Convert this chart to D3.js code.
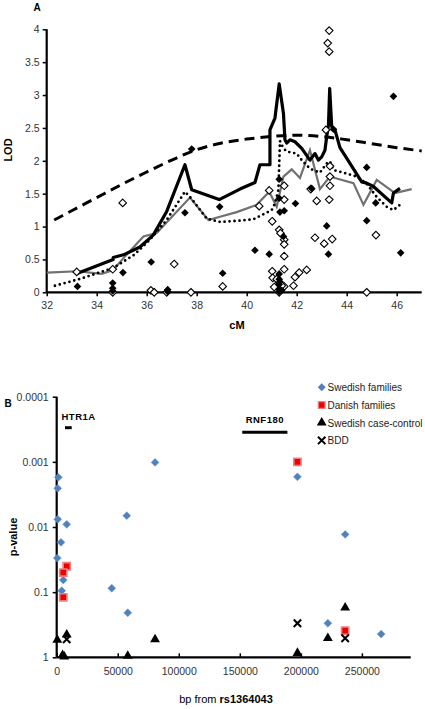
<!DOCTYPE html>
<html><head><meta charset="utf-8">
<script src="https://cdn.jsdelivr.net/npm/d3@7"></script>
<style>body{margin:0;background:#fff}svg{display:block;font-family:"Liberation Sans",Arial,sans-serif}</style>
</head><body><svg id="c" width="425" height="709"></svg>
<script>
// ---------- Panel A data (cM, LOD) ----------
const aTicksX = [32,34,36,38,40,42,44,46];
const aTicksY = [0,0.5,1,1.5,2,2.5,3,3.5,4];
const dashedLine = [[32.3,1.1],[33,1.24],[34,1.44],[35,1.64],[36,1.83],[37,2.01],[38,2.17],[39,2.27],[40,2.33],[41,2.37],[42,2.39],[43,2.37],[44,2.32],[45,2.26],[46,2.2],[47,2.15]];
const blackLine = [[33.24,0.29],[34.66,0.5],[34.66,0.53],[35.07,0.57],[35.73,0.69],[36.26,0.87],[36.8,1.23],[37.53,1.94],[37.8,1.56],[38.9,1.41],[39.73,1.57],[40.33,1.67],[40.53,1.94],[40.93,1.94],[40.93,2.47],[41.13,2.65],[41.3,3.17],[41.47,2.72],[41.53,2.32],[41.6,2.27],[41.73,2.32],[41.93,2.29],[42.2,2.19],[42.53,2.01],[42.73,2.11],[42.87,2.01],[43.0,2.06],[43.13,2.16],[43.2,2.37],[43.27,2.54],[43.32,3.1],[43.4,2.52],[43.53,2.47],[43.73,2.2],[44.13,1.96],[44.6,1.68],[44.8,1.66],[45.07,1.61],[45.8,1.36],[45.87,1.51],[46.13,1.58]];
const dottedLine = [[32.33,0.1],[33.3,0.2],[34.66,0.37],[35.5,0.57],[36.13,0.8],[36.8,1.1],[37.53,1.53],[37.8,1.42],[38.4,1.12],[38.93,1.07],[39.73,1.09],[40.27,1.11],[41.0,1.25],[41.13,1.35],[41.27,1.56],[41.33,2.3],[41.47,2.19],[41.6,2.14],[42.0,2.11],[42.2,2.01],[42.53,1.88],[42.93,1.82],[43.2,1.96],[43.33,1.99],[43.47,1.86],[43.87,1.82],[44.4,1.76],[44.8,1.65],[45.2,1.45],[45.6,1.3],[45.87,1.25],[46.13,1.33]];
const grayLine = [[32.0,0.3],[33.24,0.32],[34.2,0.28],[34.66,0.34],[35.07,0.52],[35.87,0.85],[36.4,0.9],[37.73,1.44],[38.47,1.1],[38.93,1.15],[39.6,1.22],[40.4,1.33],[40.9,1.53],[41.2,1.3],[41.47,1.76],[41.8,1.87],[42.13,1.74],[42.53,2.16],[42.93,1.57],[43.33,1.76],[43.6,1.73],[44.27,1.66],[44.67,1.33],[45.2,1.71],[45.93,1.51],[46.6,1.57]];
const filledDiamonds = [[33.23,0.09],[34.64,0.14],[34.64,0.06],[34.64,0.02],[35.05,0.30],[36.18,0.46],[36.84,0.04],[36.84,0.01],[37.53,1.21],[37.8,2.18],[38.92,1.30],[39.04,0.29],[40.33,0.64],[40.9,0.58],[41.3,1.72],[41.3,1.43],[41.33,1.22],[41.5,1.24],[41.47,0.85],[41.95,1.35],[42.6,1.58],[43.2,1.01],[43.27,0.58],[43.47,2.48],[44.8,1.90],[44.8,1.09],[45.16,1.36],[45.87,2.98],[46.16,0.60],[41.3,0.28],[41.3,0.20],[41.3,0.12],[41.3,0.05],[41.3,0.01],[41.33,0.16],[41.4,0.03]];
const openDiamonds = [[33.2,0.31],[34.64,0.35],[34.64,0.0],[35.04,1.36],[36.17,0.03],[36.3,0.0],[36.8,0.0],[37.1,0.43],[37.77,0.0],[39.04,0.09],[40.5,1.31],[40.9,1.55],[41.02,1.08],[41.3,0.95],[41.35,0.9],[41.5,1.62],[41.5,1.41],[41.5,0.8],[41.5,0.73],[41.5,0.55],[41.02,0.32],[41.04,0.22],[41.5,0.35],[41.5,0.09],[41.87,0.10],[41.93,0.23],[42.1,0.30],[42.4,0.34],[42.56,1.57],[42.8,1.39],[42.73,0.83],[43.1,0.74],[43.42,0.81],[43.33,1.92],[43.33,1.76],[43.33,1.62],[43.3,1.41],[43.17,2.47],[43.3,3.98],[43.24,3.79],[43.3,3.66],[45.17,0.87],[44.8,0.0],[41.3,0.15],[41.3,0.06],[41.3,0.0],[41.4,0.1],[41.2,0.2],[41.1,0.08]];

// ---------- Panel B data (bp, p-value) ----------
const bTicksX = [0,50000,100000,150000,200000,250000];
const bTicksY = [1,0.1,0.01,0.001,0.0001];
const bTickLabels = ["1","0.1","0.01","0.001","0.0001"];
const swedishFamilies = [[1311,0.00173],[820,0.00255],[820,0.0076],[8197,0.0091],[3525,0.0172],[492,0.030],[5410,0.065],[4098,0.095],[45082,0.087],[58197,0.207],[57377,0.0067],[80574,0.00102],[197213,0.0017],[236311,0.013],[222131,0.30],[265820,0.44]];
const danishFamilies = [[8197,0.040],[5410,0.050],[5410,0.12],[197213,0.001],[236311,0.39]];
const swedishCaseControl = [[492,0.54],[8197,0.45],[4800,0.93],[6200,0.98],[58197,0.95],[80574,0.53],[197213,0.86],[222131,0.51],[236311,0.173]];
const bdd = [[8197,0.53],[197213,0.30],[236311,0.51]];
const genes = [{name:"HTR1A", start:6800, end:12300},{name:"RNF180", start:152000, end:189000}];
const legendLabels = ["Swedish families","Danish families","Swedish case-control","BDD"];

const svg = d3.select("#c");
const diamond = {draw(ctx,size){const r=Math.sqrt(size)/2;ctx.moveTo(0,-r);ctx.lineTo(r,0);ctx.lineTo(0,r);ctx.lineTo(-r,0);ctx.closePath();}};

// ---------- Panel A ----------
const xA = d3.scaleLinear().domain([32,47]).range([46.7,421.7]);
const yA = d3.scaleLinear().domain([0,4]).range([292.3,29.3]);
const gA = svg.append("g");
const axA = gA.append("g").attr("transform","translate(0,292.3)")
  .call(d3.axisBottom(xA).tickValues(aTicksX).tickSize(4).tickFormat(d3.format("d")));
const ayA = gA.append("g").attr("transform","translate(46.7,0)")
  .call(d3.axisLeft(yA).tickValues(aTicksY).tickSize(4).tickFormat(d=>String(d)));
[axA,ayA].forEach(a=>{a.select(".domain").attr("stroke","#000").attr("stroke-width",2.2);
  a.selectAll(".tick line").attr("stroke","#000").attr("stroke-width",1.5);
  a.selectAll(".tick text").attr("fill","#333").attr("font-size",10.5).attr("font-family","Liberation Sans, Arial");});
axA.select(".domain").attr("d",`M${xA(32)},0H${xA(47)}`);
ayA.select(".domain").attr("d",`M0,${yA(4)}V${yA(0)}`);
axA.selectAll(".tick text").attr("dy","0.9em");

const lineA = d3.line().x(d=>xA(d[0])).y(d=>yA(d[1]));
gA.append("path").datum(dashedLine).attr("fill","none").attr("stroke","#000").attr("stroke-width",3)
  .attr("stroke-dasharray","10,6").attr("d",lineA.curve(d3.curveMonotoneX));
lineA.curve(d3.curveLinear);
gA.append("path").datum(grayLine).attr("fill","none").attr("stroke","#707070").attr("stroke-width",2.2).attr("d",lineA);
gA.append("path").datum(dottedLine).attr("fill","none").attr("stroke","#000").attr("stroke-width",2.8)
  .attr("stroke-linecap","round").attr("stroke-dasharray","0,5").attr("d",lineA);
gA.append("path").datum(blackLine).attr("fill","none").attr("stroke","#000").attr("stroke-width",3.2)
  .attr("stroke-linejoin","round").attr("d",lineA);

const dsym = d3.symbol().type(diamond).size(58);
gA.selectAll(".od").data(openDiamonds).join("path").attr("d",dsym)
  .attr("transform",d=>`translate(${xA(d[0])},${yA(d[1])})`).attr("fill","#fff").attr("stroke","#000").attr("stroke-width",1.1);
gA.selectAll(".fd").data(filledDiamonds).join("path").attr("d",dsym)
  .attr("transform",d=>`translate(${xA(d[0])},${yA(d[1])})`).attr("fill","#000");

gA.append("text").attr("x",37).attr("y",11).attr("text-anchor","middle").attr("font-weight","bold").attr("font-size",10).text("A");
gA.append("text").attr("transform","translate(12,150) rotate(-90)").attr("text-anchor","middle").attr("font-weight","bold").attr("font-size",11).text("LOD");
gA.append("text").attr("x",237).attr("y",329).attr("text-anchor","middle").attr("font-weight","bold").attr("font-size",11).text("cM");

// ---------- Panel B ----------
const xB = d3.scaleLinear().domain([0,290000]).range([56.7,410.7]);
const yB = d3.scaleLog().domain([1,0.0001]).range([657.3,396.7]);
const gB = svg.append("g");
const axB = gB.append("g").attr("transform","translate(0,657.3)")
  .call(d3.axisBottom(xB).tickValues(bTicksX).tickSize(-4).tickFormat(d3.format("d")));
const ayB = gB.append("g").attr("transform","translate(56.7,0)")
  .call(d3.axisLeft(yB).tickValues(bTicksY).tickSize(4).tickFormat((d,i)=>bTickLabels[i]));
[axB,ayB].forEach(a=>{a.select(".domain").attr("stroke","#000").attr("stroke-width",2.2);
  a.selectAll(".tick line").attr("stroke","#000").attr("stroke-width",1.5);
  a.selectAll(".tick text").attr("fill","#333").attr("font-size",10.5).attr("font-family","Liberation Sans, Arial");});
axB.select(".domain").attr("d",`M${xB(0)},0H${xB(290000)}`);
ayB.select(".domain").attr("d",`M0,${yB(0.0001)}V${yB(1)}`);
axB.selectAll(".tick text").attr("y",10).attr("dy","0.71em");
ayB.selectAll(".tick text").attr("x",-8);

// gene bars
gB.selectAll(".gbar").data(genes).join("line")
  .attr("x1",d=>xB(d.start)).attr("x2",d=>xB(d.end))
  .attr("y1",(d,i)=>i===0?427.7:432.3).attr("y2",(d,i)=>i===0?427.7:432.3)
  .attr("stroke","#000").attr("stroke-width",3);
gB.append("text").attr("x",61.5).attr("y",419.5).attr("font-weight","bold").attr("font-size",9.5).attr("letter-spacing",0.5).text(genes[0].name);
gB.append("text").attr("x",xB((genes[1].start+genes[1].end)/2)).attr("y",422.5).attr("text-anchor","middle").attr("font-weight","bold").attr("font-size",9.5).attr("letter-spacing",0.5).text(genes[1].name);

const bDia = d3.symbol().type(diamond).size(62);
const tri = d3.symbol().type(d3.symbolTriangle).size(42);
const cross = {draw(ctx,size){const r=Math.sqrt(size)/2;ctx.moveTo(-r,-r);ctx.lineTo(r,r);ctx.moveTo(r,-r);ctx.lineTo(-r,r);}};
const xs = d3.symbol().type(cross).size(55);
function drawSeries(data,kind,g){
  const sel = g.selectAll(null).data(data).join("path")
    .attr("transform",d=>`translate(${xB(d[0])},${yB(d[1])})`);
  if(kind===0) sel.attr("d",bDia).attr("fill","#4F81BD").attr("stroke","#6f97cc").attr("stroke-width",0.6);
  if(kind===1) sel.attr("d",d3.symbol().type(d3.symbolSquare).size(52)).attr("fill","#ee0000").attr("stroke","#f08080").attr("stroke-width",1.6);
  if(kind===2) sel.attr("d",tri).attr("fill","#000");
  if(kind===3) sel.attr("d",xs).attr("fill","none").attr("stroke","#000").attr("stroke-width",2);
  return sel;
}
drawSeries(swedishFamilies,0,gB);
drawSeries(danishFamilies,1,gB);
drawSeries(swedishCaseControl,2,gB);
drawSeries(bdd,3,gB);

// legend
const lg = gB.append("g");
legendLabels.forEach((lab,i)=>{
  const y = 387.3 + i*17.7;
  const m = lg.append("path").attr("transform",`translate(321.7,${y})`);
  if(i===0) m.attr("d",bDia).attr("fill","#4F81BD");
  if(i===1) m.attr("d",d3.symbol().type(d3.symbolSquare).size(45)).attr("fill","#ee0000").attr("stroke","#f08080").attr("stroke-width",1.4);
  if(i===2) m.attr("d",tri).attr("fill","#000");
  if(i===3) m.attr("d",xs).attr("fill","none").attr("stroke","#000").attr("stroke-width",2);
  lg.append("text").attr("x",327.5).attr("y",y+3.8).attr("font-size",10).attr("fill","#222").text(lab);
});

gB.append("text").attr("x",8).attr("y",407).attr("text-anchor","middle").attr("font-weight","bold").attr("font-size",10).text("B");
gB.append("text").attr("transform","translate(17,537) rotate(-90)").attr("text-anchor","middle").attr("font-weight","bold").attr("font-size",11).text("p-value");
const xt = gB.append("text").attr("x",226).attr("y",703).attr("text-anchor","middle").attr("font-size",11);
xt.append("tspan").text("bp from ");
xt.append("tspan").attr("font-weight","bold").text("rs1364043");
</script></body></html>
